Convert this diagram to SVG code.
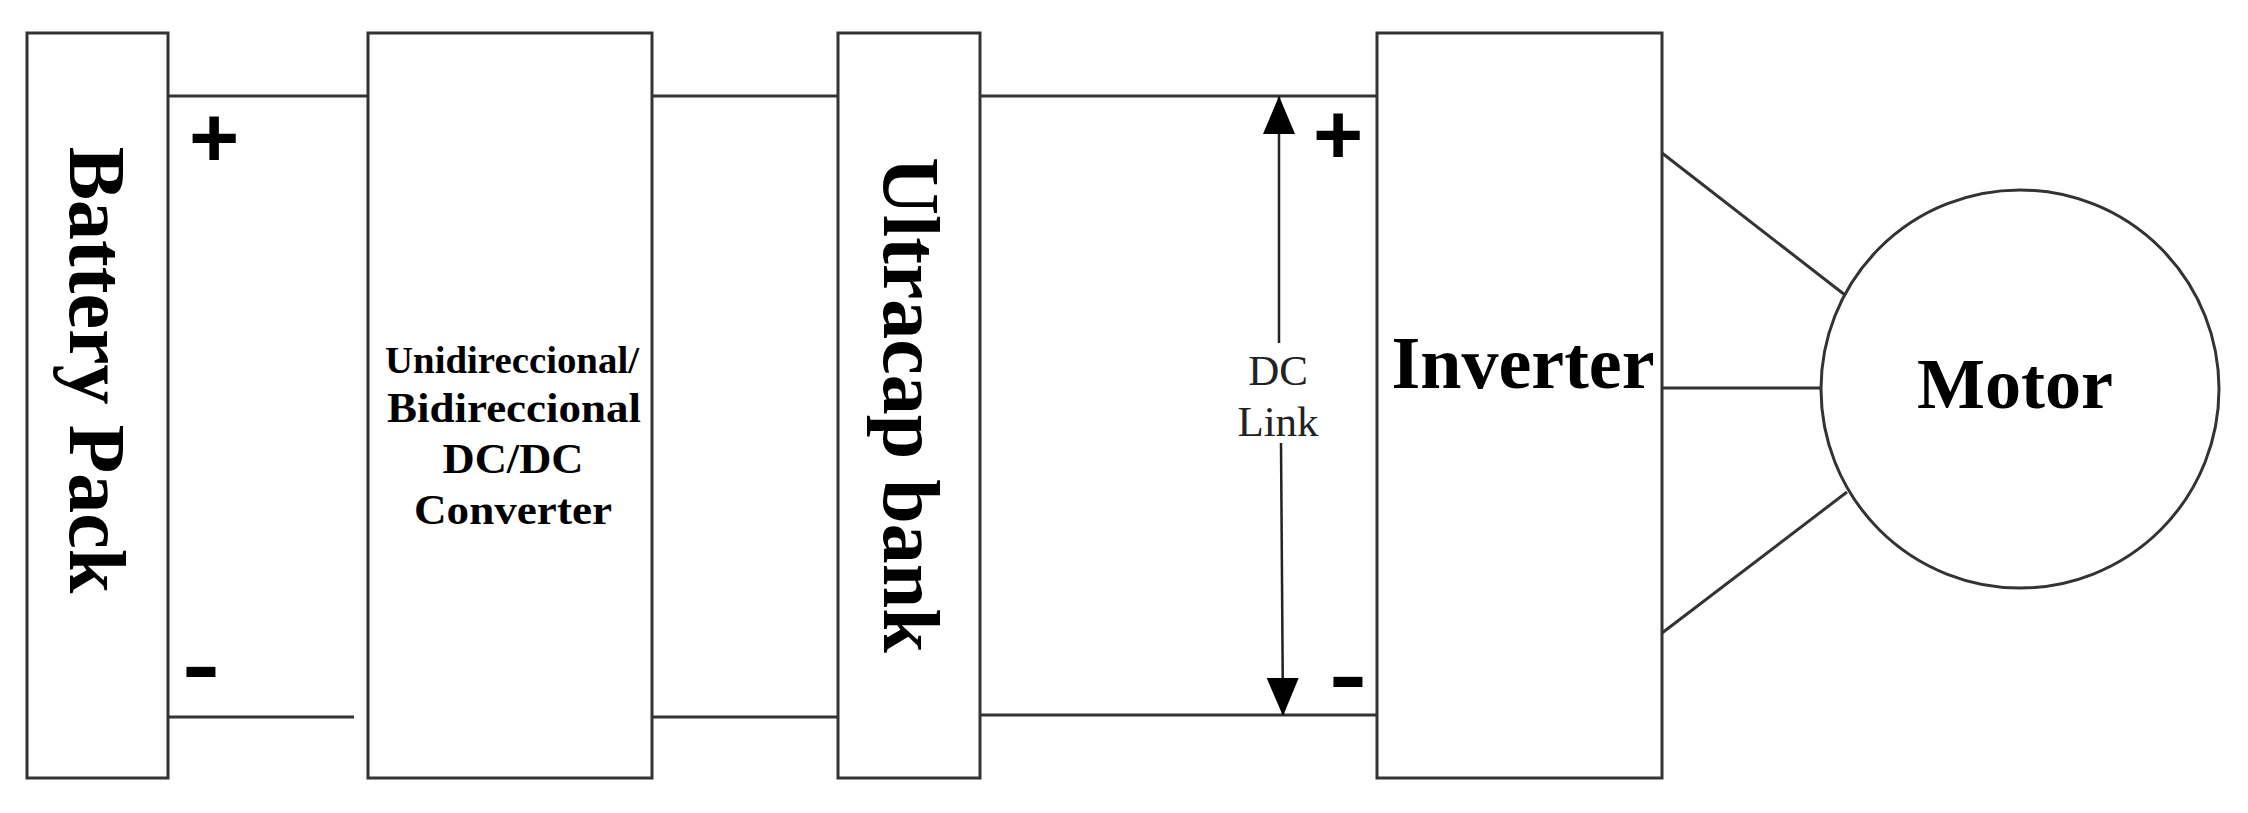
<svg xmlns="http://www.w3.org/2000/svg" width="2248" height="813" viewBox="0 0 2248 813">
<style>
.box{fill:#fff;stroke:#333;stroke-width:3}
.wire{fill:none;stroke:#333;stroke-width:3}
.lbl{font-family:"Liberation Serif","Times New Roman",serif;font-weight:bold;fill:#000}
.dc{font-family:"Liberation Serif","Times New Roman",serif;fill:#222;font-size:43px}
.sign{font-family:"Liberation Sans",Arial,sans-serif;font-weight:bold;fill:#000;font-size:86px}
</style>
<defs>
<marker id="ah" markerUnits="userSpaceOnUse" markerWidth="38" markerHeight="32" refX="37" refY="16" orient="auto">
<path d="M0,0 L38,16 L0,32 z" fill="#000"/>
</marker>
</defs>
<rect width="2248" height="813" fill="#fff"/>
<g id="connectors">
<path class="wire" d="M168,96 H368"/>
<path class="wire" d="M652,96 H838"/>
<path class="wire" d="M980,96 H1377"/>
<path class="wire" d="M168,717 H354"/>
<path class="wire" d="M652,717 H838"/>
<path class="wire" d="M980,715 H1377"/>
<path class="wire" d="M1662,153 L1845,295"/>
<path class="wire" d="M1662,388 H1821"/>
<path class="wire" d="M1662,633 L1847,492"/>
<path class="wire" style="stroke:#222;stroke-width:2.5" d="M1279,343 V97" marker-end="url(#ah)"/>
<path class="wire" style="stroke:#222;stroke-width:2.5" d="M1281,443 L1283,715" marker-end="url(#ah)"/>
<text class="dc" x="1278" y="385" text-anchor="middle">DC</text>
<text class="dc" x="1278" y="436" text-anchor="middle">Link</text>
<text class="sign" x="214" y="167" text-anchor="middle">+</text>
<text class="sign" x="201" y="694" text-anchor="middle" textLength="38" lengthAdjust="spacingAndGlyphs">-</text>
<text class="sign" x="1338" y="164" text-anchor="middle">+</text>
<text class="sign" x="1348" y="704" text-anchor="middle" textLength="38" lengthAdjust="spacingAndGlyphs">-</text>
</g>
<g id="battery">
<rect class="box" x="27" y="33" width="141" height="745"/>
<text class="lbl" font-size="80" x="70" y="370" text-anchor="middle" transform="rotate(90 70 370)">Battery Pack</text>
</g>
<g id="dcdc">
<rect class="box" x="368" y="33" width="284" height="745"/>
<text class="lbl" font-size="38" x="512" y="373" text-anchor="middle" textLength="254" lengthAdjust="spacingAndGlyphs">Unidireccional/</text>
<text class="lbl" font-size="42" x="514" y="422" text-anchor="middle" textLength="254" lengthAdjust="spacingAndGlyphs">Bidireccional</text>
<text class="lbl" font-size="42" x="513" y="473" text-anchor="middle" textLength="141" lengthAdjust="spacingAndGlyphs">DC/DC</text>
<text class="lbl" font-size="42" x="513" y="524" text-anchor="middle" textLength="198" lengthAdjust="spacingAndGlyphs">Converter</text>
</g>
<g id="ultracap">
<rect class="box" x="838" y="33" width="142" height="745"/>
<text class="lbl" font-size="80" x="884" y="405" text-anchor="middle" transform="rotate(90 884 405)">Ultracap bank</text>
</g>
<g id="inverter">
<rect class="box" x="1377" y="33" width="285" height="745"/>
<text class="lbl" font-size="74" x="1523" y="388" text-anchor="middle">Inverter</text>
</g>
<g id="motor">
<circle class="box" cx="2020" cy="389" r="199"/>
<text class="lbl" font-size="72" x="2015" y="408" text-anchor="middle">Motor</text>
</g>
</svg>
